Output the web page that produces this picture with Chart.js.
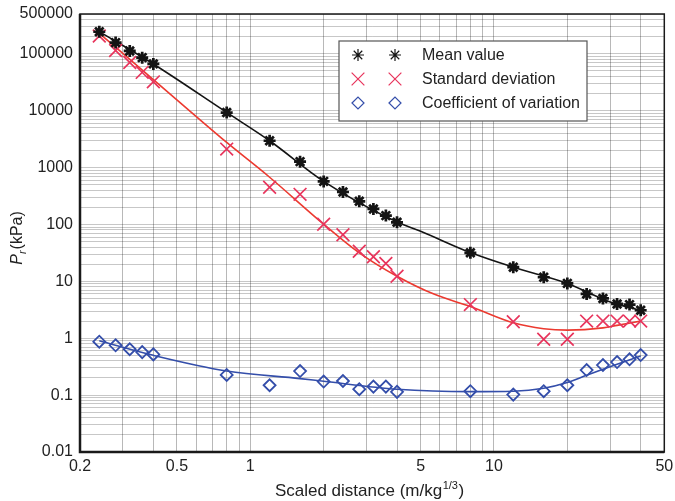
<!DOCTYPE html>
<html><head><meta charset="utf-8">
<script src="https://cdn.jsdelivr.net/npm/chart.js@4/dist/chart.umd.min.js"></script>
<style>html,body{margin:0;padding:0;background:#fff}#wrap{width:675px;height:501px}</style>
</head><body><div id="wrap"><canvas id="c" width="675" height="501"></canvas></div>
<script>
// ---- data ----
const distances = [0.24,0.28,0.32,0.36,0.40,0.8,1.2,1.6,2.0,2.4,2.8,3.2,3.6,4.0,8,12,16,20,24,28,32,36,40];
const meanValues = [244000,157000,112000,85500,66300,9270,2960,1270,571,372,255,187,143,109,31.7,17.7,11.8,9.2,6.0,5.0,4.0,3.9,3.1];
const stdValues = [205000,114500,70000,47100,32100,2110,452,338,101,66,33.8,27,20.6,12.3,3.9,1.95,0.96,0.96,2.0,2.0,2.0,2.0,2.0];
const covValues = [0.87,0.75,0.64,0.57,0.52,0.226,0.149,0.265,0.173,0.177,0.127,0.141,0.141,0.114,0.117,0.102,0.117,0.149,0.276,0.338,0.381,0.426,0.506];

const meanFitX = [0.24,0.4,0.8,1.2,2,4,5,8,12,20,30,40];
const meanFitY = [245000,66000,9300,2960,571,110,75.8,32,17.7,9.2,4.34,3.1];
const stdFitX = [0.24,0.4,0.8,1.2,2,2.8,4,5.7,8,12,16,20,28,32,40];
const stdFitY = [229000,35200,2760,675,101,31.7,12.3,5.9,3.62,1.87,1.47,1.39,1.52,1.68,2.0];
const covFitX = [0.24,0.4,0.8,1.6,2.0,4,8,12,16,20,24,28,32,40];
const covFitY = [0.9,0.5,0.265,0.195,0.175,0.127,0.115,0.117,0.132,0.166,0.223,0.284,0.348,0.486];

const seriesNames = ['Mean value','Standard deviation','Coefficient of variation'];
const xTickLabels = ['0.2','0.5','1','5','10','50'];
const yTickLabels = ['0.01','0.1','1','10','100','1000','10000','100000','500000'];
const xTitle = 'Scaled distance (m/kg';
const xTitleSup = '1/3';
const yTitleMain = 'P';
const yTitleSub = 'r';
const yTitleRest = '(kPa)';

// ---- grid values (log minor positions) ----
function logGrid(min, max) {
  const out = [];
  for (let e = -3; e <= 6; e++) {
    for (let m = 1; m <= 9; m++) {
      const v = parseFloat((m * Math.pow(10, e)).toPrecision(6));
      if (v >= min * 0.999 && v <= max * 1.001) out.push(v);
    }
  }
  return out;
}
const xGrid = logGrid(0.2, 50);
const yGrid = logGrid(0.01, 500000);
function labelFor(v, labels) {
  for (const l of labels) if (Math.abs(parseFloat(l) - v) / v < 1e-6) return l;
  return '';
}
const pts = (xs, ys) => xs.map((x, i) => ({x, y: ys[i]}));

const BLACK = '#141414', RED_M = 'rgb(232,52,92)', RED_L = 'rgb(236,58,48)', BLUE = 'rgb(52,78,170)';
const FONT = 'Liberation Sans, Arial, Helvetica, sans-serif';

const decor = {
  id: 'decor',
  beforeDatasetsDraw(chart) {
    const {ctx, chartArea: a} = chart;
    ctx.save();
    ctx.strokeStyle = '#1a1a1a';
    ctx.lineWidth = 1.5;
    ctx.strokeRect(a.left, a.top, a.right - a.left, a.bottom - a.top);
    ctx.lineWidth = 2.5;
    ctx.beginPath();
    ctx.moveTo(a.left, a.top); ctx.lineTo(a.left, a.bottom); ctx.lineTo(a.right, a.bottom);
    ctx.stroke();
    ctx.restore();
  },
  afterDatasetsDraw(chart) {
    const {ctx, chartArea: a} = chart;
    ctx.save();
    // legend box
    const bx = 339, by = 41, bw = 248, bh = 80;
    ctx.fillStyle = '#fff';
    ctx.fillRect(bx, by, bw, bh);
    ctx.strokeStyle = '#555';
    ctx.lineWidth = 1.2;
    ctx.strokeRect(bx, by, bw, bh);
    const rows = [
      {style: 'star', r: 6, color: BLACK, bw: 2.7, fill: BLACK},
      {style: 'crossRot', r: 9, color: RED_M, bw: 1.7, fill: RED_M},
      {style: 'rectRot', r: 6, color: BLUE, bw: 1.8, fill: '#fff'}
    ];
    const rowY = [55, 79, 103];
    rows.forEach((s, i) => {
      ctx.strokeStyle = s.color; ctx.fillStyle = s.fill;
      [358, 395].forEach(x => Chart.helpers.drawPoint(ctx, {pointStyle: s.style, radius: s.r, borderWidth: s.bw, rotation: 0}, x, rowY[i]));
      ctx.fillStyle = '#222';
      ctx.font = '16px ' + FONT;
      ctx.textBaseline = 'middle';
      ctx.textAlign = 'left';
      ctx.fillText(seriesNames[i], 422, rowY[i] + 1);
    });
    // x title
    ctx.fillStyle = '#222';
    ctx.textBaseline = 'alphabetic';
    ctx.font = '17px ' + FONT;
    const w1 = ctx.measureText(xTitle).width;
    ctx.font = '11px ' + FONT;
    const w2 = ctx.measureText(xTitleSup).width;
    ctx.font = '17px ' + FONT;
    const w3 = ctx.measureText(')').width;
    let x0 = 369 - (w1 + w2 + w3) / 2;
    const yb = 496;
    ctx.textAlign = 'left';
    ctx.fillText(xTitle, x0, yb);
    ctx.font = '11px ' + FONT;
    ctx.fillText(xTitleSup, x0 + w1 + 0.5, yb - 7);
    ctx.font = '17px ' + FONT;
    ctx.fillText(')', x0 + w1 + w2 + 1, yb);
    // y title (rotated)
    ctx.translate(22, 238);
    ctx.rotate(-Math.PI / 2);
    ctx.font = 'italic 16px ' + FONT;
    const p1 = ctx.measureText(yTitleMain).width;
    ctx.font = 'italic 11px ' + FONT;
    const p2 = ctx.measureText(yTitleSub).width;
    ctx.font = '16px ' + FONT;
    const p3 = ctx.measureText(yTitleRest).width;
    let s = -(p1 + p2 + p3 + 1) / 2;
    ctx.font = 'italic 16px ' + FONT;
    ctx.fillText(yTitleMain, s, 0);
    ctx.font = 'italic 11px ' + FONT;
    ctx.fillText(yTitleSub, s + p1, 4);
    ctx.font = '16px ' + FONT;
    ctx.fillText(yTitleRest, s + p1 + p2 + 1, 0);
    ctx.restore();
  }
};

new Chart(document.getElementById('c'), {
  type: 'scatter',
  data: {
    datasets: [
      {label: 'meanFit', data: pts(meanFitX, meanFitY), showLine: true, borderColor: BLACK, borderWidth: 1.6, pointRadius: 0, cubicInterpolationMode: 'monotone', order: 5},
      {label: 'stdFit', data: pts(stdFitX, stdFitY), showLine: true, borderColor: RED_L, borderWidth: 1.6, pointRadius: 0, cubicInterpolationMode: 'monotone', order: 5},
      {label: 'covFit', data: pts(covFitX, covFitY), showLine: true, borderColor: BLUE, borderWidth: 1.6, pointRadius: 0, cubicInterpolationMode: 'monotone', order: 5},
      {label: seriesNames[0], data: pts(distances, meanValues), pointStyle: 'star', pointRadius: 6, borderColor: BLACK, backgroundColor: BLACK, borderWidth: 2.7, order: 1},
      {label: seriesNames[1], data: pts(distances, stdValues), pointStyle: 'crossRot', pointRadius: 9, borderColor: RED_M, backgroundColor: RED_M, borderWidth: 1.7, order: 1},
      {label: seriesNames[2], data: pts(distances, covValues), pointStyle: 'rectRot', pointRadius: 6, borderColor: BLUE, backgroundColor: 'rgba(255,255,255,0)', borderWidth: 1.8, order: 1}
    ]
  },
  options: {
    responsive: false,
    animation: false,
    devicePixelRatio: 1,
    layout: {padding: {left: 0, top: 14, right: 10, bottom: 0}},
    plugins: {legend: {display: false}, tooltip: {enabled: false}},
    scales: {
      x: {
        type: 'logarithmic', min: 0.2, max: 50,
        afterBuildTicks: s => { s.ticks = xGrid.map(v => ({value: v})); },
        afterFit: s => { s.height = 49; s.paddingRight = 0; s.paddingLeft = 0; },
        ticks: {autoSkip: false, maxRotation: 0, padding: 5, color: '#222', font: {family: FONT, size: 16},
          callback: v => labelFor(v, xTickLabels)},
        grid: {color: 'rgba(0,0,0,0.28)', lineWidth: 1, drawTicks: false},
        border: {display: false}
      },
      y: {
        type: 'logarithmic', min: 0.01, max: 500000,
        afterBuildTicks: s => { s.ticks = yGrid.map(v => ({value: v})); },
        afterFit: s => { s.width = 80; s.paddingTop = 0; s.paddingBottom = 0; },
        ticks: {autoSkip: false, padding: 7, color: '#222', font: {family: FONT, size: 16},
          callback: v => labelFor(v, yTickLabels)},
        grid: {color: 'rgba(0,0,0,0.22)', lineWidth: 1, drawTicks: false},
        border: {display: false}
      }
    }
  },
  plugins: [decor]
});
</script>
</body></html>
